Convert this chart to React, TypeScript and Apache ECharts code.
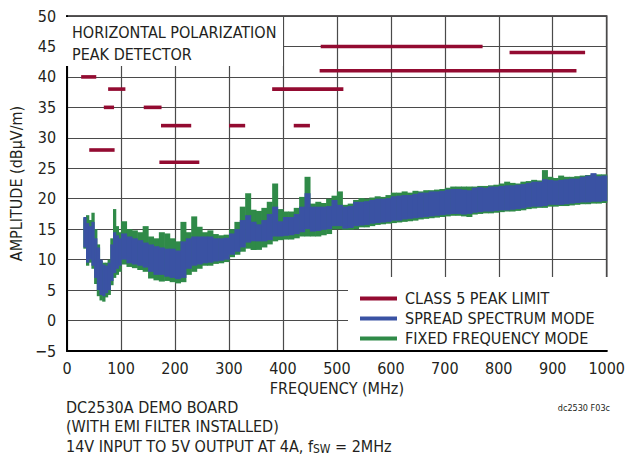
import React, { useEffect, useRef } from "react";
import * as echarts from "echarts";

// ---------- DATA ----------
const xTicks = [0, 100, 200, 300, 400, 500, 600, 700, 800, 900, 1000];
const yTicks = [-5, 0, 5, 10, 15, 20, 25, 30, 35, 40, 45, 50];

// CLASS 5 PEAK LIMIT segments (MHz start, MHz end, dBµV/m)
const limStart = [26, 76, 68, 41, 142, 174, 171, 300, 380, 420, 470, 468, 820];
const limEnd = [54, 108, 87, 88, 175, 230, 245, 330, 512, 450, 770, 944, 960];
const limLevel = [40, 38, 35, 28, 35, 32, 26, 32, 38, 32, 45, 41, 44];

// Frequency bins (MHz, start of each bin); last bin ends at 1000
const freq = [
  30, 35, 40, 45, 50, 55, 60, 65, 70, 75, 80, 85, 90, 95,
  100, 110, 120, 130, 140, 150, 160, 170, 180, 190, 200, 210, 220, 230, 240,
  250, 260, 270, 280, 290, 300, 310, 320, 330, 340, 350, 360, 370, 380, 390,
  400, 410, 420, 430, 440, 450, 460, 470, 480, 490, 500, 510, 520, 530, 540,
  550, 560, 570, 580, 590, 600, 610, 620, 630, 640, 650, 660, 670, 680, 690,
  700, 710, 720, 730, 740, 750, 760, 770, 780, 790, 800, 810, 820, 830, 840,
  850, 860, 870, 880, 890, 900, 910, 920, 930, 940, 950, 960, 970, 980, 990,
];
const freqEnd = 1000;

// SPREAD SPECTRUM MODE envelope (dBµV/m)
const spreadHi = [
  17.0, 16.0, 15.5, 16.2, 13.5, 12.0, 10.0, 9.2, 9.0, 9.5, 12.5, 14.5, 14.0, 13.5,
  14.3, 13.8, 13.5, 13.2, 12.8, 12.5, 12.2, 12.0, 11.8, 11.8, 11.5, 13.0, 13.5, 13.8, 13.8,
  13.8, 13.8, 13.5, 13.5, 13.6, 14.3, 15.0, 16.5, 17.3, 16.2, 15.8, 16.5, 17.5, 18.7, 16.3,
  17.0, 17.0, 17.5, 18.7, 20.9, 18.7, 18.7, 18.7, 18.8, 19.8, 19.0, 18.7, 18.8, 19.5, 19.5,
  19.6, 19.8, 20.0, 20.0, 20.1, 20.4, 20.5, 20.6, 20.6, 20.8, 21.0, 21.0, 21.2, 21.2, 21.3,
  21.5, 21.6, 21.6, 21.5, 21.4, 21.8, 21.9, 21.8, 22.0, 22.0, 22.1, 22.2, 22.2, 22.3, 22.4,
  22.6, 22.8, 22.8, 23.2, 23.1, 23.0, 23.1, 23.2, 23.3, 23.3, 23.6, 23.8, 24.2, 23.7, 23.8,
];
const spreadLo = [
  12.0, 9.5, 10.0, 9.0, 7.0, 5.0, 4.2, 4.0, 4.5, 5.0, 6.5, 7.8, 8.5, 9.0,
  10.0, 9.4, 9.2, 9.0, 8.7, 8.0, 7.5, 7.5, 7.2, 7.0, 6.8, 7.0, 8.5, 9.0, 9.2,
  9.4, 9.5, 9.7, 9.8, 10.0, 10.8, 11.3, 12.0, 12.8, 13.0, 13.0, 13.0, 13.2, 13.8, 13.8,
  13.9, 14.0, 14.2, 14.5, 15.0, 14.6, 14.7, 14.9, 15.0, 15.5, 15.5, 15.1, 15.2, 15.5, 15.6,
  15.7, 15.9, 16.0, 16.1, 16.2, 16.4, 16.4, 16.6, 16.7, 16.8, 16.9, 17.0, 17.1, 17.2, 17.3,
  17.4, 17.5, 17.5, 17.4, 17.5, 17.7, 17.8, 17.9, 17.9, 18.0, 18.1, 18.1, 18.2, 18.3, 18.4,
  18.6, 18.7, 18.7, 18.8, 19.0, 19.0, 19.0, 19.1, 19.2, 19.3, 19.4, 19.4, 19.5, 19.5, 19.6,
];

// FIXED FREQUENCY MODE envelope (dBµV/m)
const fixedHi = [
  16.8, 17.3, 16.5, 17.7, 15.0, 12.5, 9.8, 9.5, 9.5, 10.0, 13.5, 18.3, 15.5, 14.5,
  16.3, 15.0, 14.8, 14.5, 15.5, 13.8, 13.5, 14.5, 14.3, 13.5, 13.0, 16.2, 14.5, 17.1, 15.4,
  14.5, 14.8, 14.2, 14.0, 14.1, 15.0, 16.2, 18.7, 20.9, 18.2, 18.0, 18.5, 19.5, 22.5, 18.3,
  17.9, 17.9, 18.5, 20.3, 23.6, 19.2, 19.5, 19.3, 20.0, 20.5, 21.2, 19.0, 19.2, 19.8, 20.1,
  20.0, 20.2, 20.4, 20.3, 20.6, 21.0, 21.0, 21.2, 21.0, 21.3, 21.2, 21.4, 21.4, 21.5, 21.6,
  21.8, 22.0, 22.0, 22.0, 22.0, 22.0, 22.1, 22.1, 22.2, 22.3, 22.5, 22.8, 22.6, 22.5, 22.8,
  22.9, 23.1, 23.0, 24.7, 23.6, 23.4, 23.8, 23.6, 23.6, 23.7, 23.8, 23.9, 24.0, 24.0, 24.0,
];
const fixedLo = [
  11.8, 9.0, 9.5, 8.5, 6.0, 4.0, 3.3, 3.1, 3.8, 4.2, 5.8, 7.0, 7.5, 8.0,
  9.2, 8.8, 8.6, 8.3, 8.0, 6.9, 6.6, 6.4, 6.5, 6.3, 6.1, 6.3, 7.5, 8.0, 8.5,
  9.0, 9.0, 9.3, 9.4, 9.6, 10.4, 10.8, 11.3, 11.8, 11.6, 11.6, 12.0, 12.5, 13.0, 13.2,
  13.3, 13.3, 13.5, 13.8, 13.8, 13.8, 13.8, 14.0, 14.2, 15.0, 15.0, 14.9, 14.9, 15.0, 15.3,
  15.3, 15.5, 15.7, 15.8, 15.9, 16.0, 16.1, 16.2, 16.3, 16.4, 16.6, 16.7, 16.8, 16.9, 17.0,
  17.1, 17.2, 17.2, 17.1, 17.0, 17.4, 17.5, 17.6, 17.6, 17.7, 17.8, 17.9, 17.9, 18.0, 18.1,
  18.3, 18.4, 18.5, 18.5, 18.7, 18.7, 18.8, 18.8, 18.9, 19.0, 19.1, 19.1, 19.2, 19.2, 19.3,
];

const noteLines = [
  "DC2530A DEMO BOARD",
  "(WITH EMI FILTER INSTALLED)",
];

// ---------- STYLE ----------
const FONT = "'Liberation Sans Narrow', 'DejaVu Sans Condensed', 'Roboto Condensed', 'Liberation Sans', sans-serif";
const FS = 16;
const TXT = "#231f20";
const RED = "#930b31";
const BLUE = "#3a52a3";
const GREEN = "#2f8a48";

function bandData(lo: number[], hi: number[]) {
  return freq.map((f, i) => [f, i + 1 < freq.length ? freq[i + 1] : freqEnd, lo[i], hi[i]]);
}

function bandRender(color: string) {
  return (params: any, api: any) => {
    const p0 = api.coord([api.value(0), api.value(3)]);
    const p1 = api.coord([api.value(1), api.value(2)]);
    return {
      type: "rect",
      shape: { x: p0[0], y: p0[1], width: p1[0] - p0[0] + 0.6, height: p1[1] - p0[1] },
      style: { fill: color },
    };
  };
}

export default function App() {
  const ref = useRef<HTMLDivElement>(null);
  useEffect(() => {
    document.body.style.margin = "0";
    const chart = echarts.init(ref.current!, null, { renderer: "svg" });
    const limitData = limStart.map((s, i) => [s, limEnd[i], limLevel[i]]);
    chart.setOption({
      animation: false,
      backgroundColor: "#fff",
      textStyle: { fontFamily: FONT },
      grid: {
        left: 62, right: 19, top: 16, bottom: 109,
        show: true, borderColor: "#231f20", borderWidth: 1.5, backgroundColor: "transparent",
      },
      xAxis: {
        type: "value", min: 0, max: 1000, interval: 100,
        name: "FREQUENCY (MHz)", nameLocation: "middle", nameGap: 26,
        nameTextStyle: { fontFamily: FONT, fontSize: FS, color: TXT },
        axisLine: { show: true, onZero: false, lineStyle: { color: "#000", width: 2 } },
        axisTick: { show: false },
        axisLabel: {
          fontFamily: FONT, fontSize: FS, color: TXT, margin: 9,
          customValues: xTicks,
          formatter: (v: number) => String(v),
        },
        splitLine: { show: true, lineStyle: { color: "#4a4a4a", width: 1.2 } },
      },
      yAxis: {
        type: "value", min: -5, max: 50, interval: 5,
        name: "AMPLITUDE (dBµV/m)", nameLocation: "middle", nameGap: 34,
        nameTextStyle: { fontFamily: FONT, fontSize: FS, color: TXT },
        axisLine: { show: true, onZero: false, lineStyle: { color: "#000", width: 2 } },
        axisTick: { show: false },
        axisLabel: {
          fontFamily: FONT, fontSize: FS, color: TXT, margin: 11,
          customValues: yTicks,
          formatter: (v: number) => String(v).replace("-", "\u2212"),
        },
        splitLine: { show: true, lineStyle: { color: "#4a4a4a", width: 1.2 } },
      },
      legend: {
        orient: "vertical", left: 355, top: 285, itemGap: 3,
        itemWidth: 37, itemHeight: 4, z: 10,
        textStyle: { fontFamily: FONT, fontSize: FS, color: TXT, lineHeight: 17, padding: [0, 0, 0, 3] },
        data: [
          { name: "CLASS 5 PEAK LIMIT", icon: "rect" },
          { name: "SPREAD SPECTRUM MODE", icon: "rect" },
          { name: "FIXED FREQUENCY MODE", icon: "rect" },
        ],
      },
      graphic: [
        { type: "rect", z: 8, shape: { x: 63.5, y: 17, width: 219.5, height: 49 }, style: { fill: "#fff" } },
        {
          type: "text", z: 9, x: 72, y: 22,
          style: {
            text: "HORIZONTAL POLARIZATION\nPEAK DETECTOR",
            font: `${FS}px ${FONT}`, fill: TXT, lineHeight: 21.5,
          },
        },
        { type: "rect", z: 8, shape: { x: 348, y: 277, width: 260, height: 73 }, style: { fill: "#fff" } },
        {
          type: "text", z: 9, x: 66, y: 399,
          style: { text: noteLines[0], font: `${FS}px ${FONT}`, fill: TXT },
        },
        {
          type: "text", z: 9, x: 66, y: 418,
          style: { text: noteLines[1], font: `${FS}px ${FONT}`, fill: TXT },
        },
        {
          type: "text", z: 9, x: 66, y: 437,
          style: {
            text: "14V INPUT TO 5V OUTPUT AT 4A, f{sub|SW} = 2MHz",
            font: `${FS}px ${FONT}`, fill: TXT,
            rich: { sub: { fontFamily: FONT, fontSize: 12, fill: TXT, verticalAlign: "bottom", padding: [6, 0, 0, 0] } },
          },
        },
        {
          type: "text", z: 9, x: 610, y: 403,
          style: { text: "dc2530 F03c", font: `9px ${FONT}`, fill: TXT, align: "right" },
        },
      ],
      series: [
        {
          name: "FIXED FREQUENCY MODE", type: "custom", color: GREEN, z: 2,
          renderItem: bandRender(GREEN), data: bandData(fixedLo, fixedHi),
          encode: { x: [0, 1], y: [2, 3] }, clip: true,
        },
        {
          name: "SPREAD SPECTRUM MODE", type: "custom", color: BLUE, z: 3,
          renderItem: bandRender(BLUE), data: bandData(spreadLo, spreadHi),
          encode: { x: [0, 1], y: [2, 3] }, clip: true,
        },
        {
          name: "CLASS 5 PEAK LIMIT", type: "custom", color: RED, z: 4,
          renderItem: (params: any, api: any) => {
            const a = api.coord([api.value(0), api.value(2)]);
            const b = api.coord([api.value(1), api.value(2)]);
            return {
              type: "line",
              shape: { x1: a[0], y1: a[1], x2: b[0], y2: b[1] },
              style: { stroke: RED, lineWidth: 3.6, lineCap: "butt" },
            };
          },
          data: limitData, encode: { x: [0, 1], y: 2 }, clip: true,
        },
      ],
    });
    return () => chart.dispose();
  }, []);
  return <div ref={ref} style={{ width: 628, height: 460 }} />;
}
